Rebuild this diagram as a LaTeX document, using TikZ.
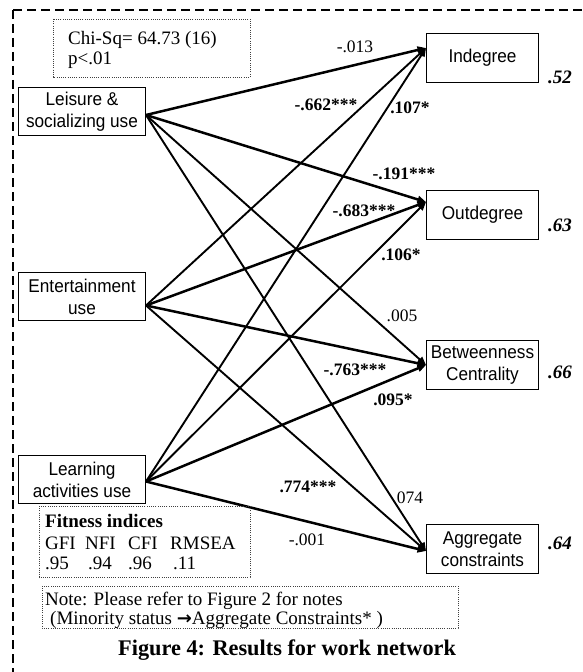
\documentclass[tikz,border=0pt]{standalone}
\usepackage{fontspec}
\setmainfont{Liberation Serif}
\newfontfamily\boxfont{Liberation Sans}[FakeStretch=0.93]
\newfontfamily\arrowfont{DejaVu Sans}
\usetikzlibrary{arrows.meta}

\begin{document}
\begin{tikzpicture}[x=1bp,y=-1bp,
  varbox/.style={draw=black, line width=1bp, inner sep=0pt, anchor=north west,
    align=center, font=\boxfont\fontsize{18.5bp}{22bp}\selectfont},
  srcbox/.style={varbox, minimum width=127bp, minimum height=48bp},
  outbox/.style={varbox, minimum width=112bp, minimum height=49bp},
  pathline/.style={-{Triangle[length=8.5bp,width=7bp]}, line width=1.9bp},
  strong/.style={pathline, line width=2.5bp},
  coef/.style={inner sep=0pt, font=\fontsize{17.5bp}{20bp}\selectfont\bfseries},
  ncoef/.style={inner sep=0pt, font=\fontsize{17.5bp}{20bp}\selectfont},
  rsq/.style={inner sep=0pt, font=\fontsize{19bp}{20bp}\selectfont\bfseries\itshape},
  dotbox/.style={draw=black!75, line width=0.8bp, dash pattern=on 1bp off 1.2bp},
  txt/.style={inner sep=0pt, anchor=base west, font=\fontsize{19bp}{20bp}\selectfont}
]
\useasboundingbox (0,0) rectangle (583,672);

% outer dashed frame (open to the right and bottom)
\coordinate (corner) at (13,10);
\draw[line width=1.3bp, dash pattern=on 9bp off 5bp] (corner) -- (583,10);
\draw[line width=1.3bp, dash pattern=on 9bp off 5bp] (corner) -- (13,672);

% fit statistics
\draw[dotbox] (53,19) rectangle (250,77);
\node[txt] (chisq) at (68,45) {Chi-Sq= 64.73 (16)};
\node[txt] (pval) at (68,65) {p<.01};

% exogenous variables
\node[srcbox] (leis) at (18,87) {Leisure \&\\socializing use};
\node[srcbox] (ent) at (18,272) {Entertainment\\use};
\node[srcbox] (learn) at (18,455) {Learning\\activities use};

% outcome variables
\node[outbox] (ind) at (426,33) {Indegree};
\node[outbox] (out) at (426,190) {Outdegree};
\node[outbox] (betw) at (426,340) {Betweenness\\Centrality};
\node[outbox] (agg) at (426,524) {Aggregate\\constraints};

% connector ends on the box edges
\coordinate (leisO) at ([yshift=-3.5bp]leis.east);
\coordinate (entO) at ([yshift=-9bp]ent.east);
\coordinate (learnO) at ([yshift=-2bp]learn.east);
\coordinate (indI) at ([yshift=10bp]ind.west);
\coordinate (outI) at ([yshift=13bp]out.west);
\coordinate (betwI) at (betw.west);
\coordinate (aggI) at ([yshift=-2bp]agg.west);

% paths
\draw[strong] (leisO) -- (indI);
\draw[strong] (leisO) -- (outI);
\draw[pathline] (leisO) -- (betwI);
\draw[pathline] (leisO) -- (aggI);
\draw[pathline] (entO) -- (indI);
\draw[strong] (entO) -- (outI);
\draw[strong] (entO) -- (betwI);
\draw[pathline] (entO) -- (aggI);
\draw[pathline] (learnO) -- (indI);
\draw[pathline] (learnO) -- (outI);
\draw[strong] (learnO) -- (betwI);
\draw[strong] (learnO) -- (aggI);

% path coefficients
\node[ncoef] (c1) at (355,47) {-.013};
\node[coef] (c2) at (326,105) {-.662***};
\node[coef] (c3) at (410,108) {.107*};
\node[coef] (c4) at (404,174) {-.191***};
\node[coef] (c5) at (364,211) {-.683***};
\node[coef] (c6) at (401,255) {.106*};
\node[ncoef] (c7) at (402,316) {.005};
\node[coef] (c8) at (355,370) {-.763***};
\node[coef] (c9) at (393,400) {.095*};
\node[coef] (c10) at (308,487) {.774***};
\node[ncoef] (c11) at (410,498) {074};
\node[ncoef] (c12) at (307,540) {-.001};

% explained variance
\node[rsq] (r1) at (560,77) {.52};
\node[rsq] (r2) at (560,225) {.63};
\node[rsq] (r3) at (560,372) {.66};
\node[rsq] (r4) at (560,543) {.64};

% fitness indices
\draw[dotbox] (39,506) rectangle (250,577);
\node[txt, font=\fontsize{19bp}{20bp}\selectfont\bfseries] (fit) at (45,527) {Fitness indices};
\node[txt] (gfi) at (45,549) {GFI};
\node[txt] (nfi) at (85,549) {NFI};
\node[txt] (cfi) at (128,549) {CFI};
\node[txt] (rmsea) at (170,549) {RMSEA};
\node[txt] (vgfi) at (45,569) {.95};
\node[txt] (vnfi) at (88,569) {.94};
\node[txt] (vcfi) at (128,569) {.96};
\node[txt] (vrmsea) at (173,569) {.11};

% note (anchored at the baseline of its last line)
\draw[dotbox] (42,586) rectangle (458,628);
\node[txt, align=left, font=\fontsize{19bp}{16.5bp}\selectfont] (note) at (45,624)
  {Note: Please refer to Figure 2 for notes\\
   \hspace*{5bp}(Minority status {\arrowfont\bfseries\fontsize{18bp}{16bp}\selectfont →}Aggregate Constraints* )};

% caption
\node[txt, font=\fontsize{22.3bp}{24bp}\selectfont\bfseries] (cap) at (118,655) {Figure 4: Results for work network};
\end{tikzpicture}
\end{document}
